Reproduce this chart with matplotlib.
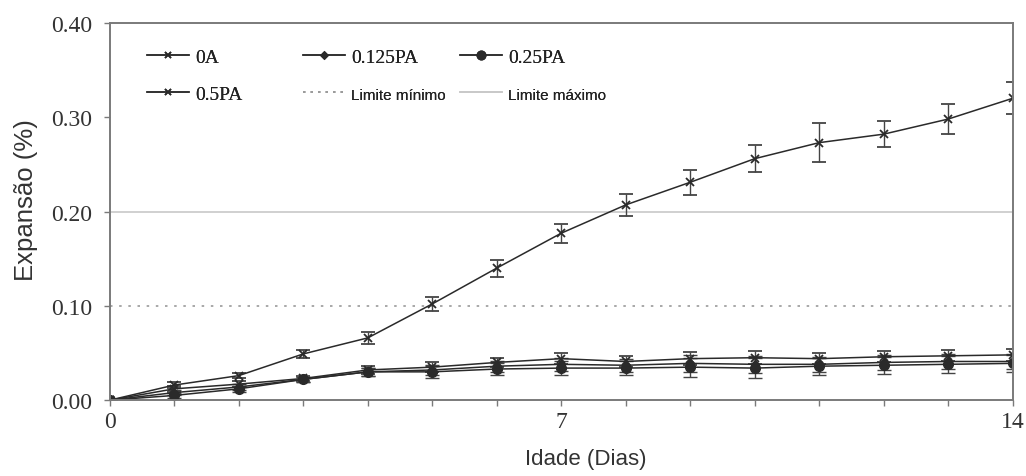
import matplotlib
matplotlib.use("Agg")
import matplotlib.pyplot as plt
from matplotlib.lines import Line2D

days = list(range(15))
s_0A = [0, 0.012, 0.017, 0.023, 0.032, 0.035, 0.040, 0.044, 0.041, 0.044, 0.045, 0.044, 0.046, 0.047, 0.048]
e_0A = [0, 0.003, 0.003, 0.003, 0.004, 0.005, 0.005, 0.006, 0.006, 0.007, 0.007, 0.006, 0.006, 0.006, 0.006]
s_125 = [0, 0.008, 0.014, 0.022, 0.030, 0.032, 0.036, 0.038, 0.037, 0.039, 0.038, 0.038, 0.040, 0.041, 0.041]
e_125 = [0, 0.003, 0.003, 0.003, 0.004, 0.005, 0.006, 0.007, 0.007, 0.009, 0.009, 0.008, 0.008, 0.008, 0.008]
s_25 = [0, 0.005, 0.012, 0.022, 0.030, 0.030, 0.033, 0.034, 0.034, 0.035, 0.034, 0.036, 0.037, 0.038, 0.039]
e_25 = [0, 0.003, 0.003, 0.003, 0.004, 0.006, 0.006, 0.007, 0.007, 0.010, 0.011, 0.009, 0.009, 0.009, 0.009]
s_5 = [0, 0.016, 0.026, 0.049, 0.066, 0.102, 0.140, 0.177, 0.207, 0.231, 0.256, 0.273, 0.282, 0.298, 0.320]
e_5 = [0, 0.003, 0.003, 0.004, 0.006, 0.007, 0.009, 0.010, 0.012, 0.013, 0.014, 0.021, 0.014, 0.016, 0.017]
lim_min = 0.10
lim_max = 0.20
x_ticks = [0, 7, 14]
y_ticks = [0, 0.1, 0.2, 0.3, 0.4]
y_ticklabels = ['0.00', '0.10', '0.20', '0.30', '0.40']

fig = plt.figure(figsize=(10.26, 4.77), dpi=100)
ax = fig.add_axes([0.107, 0.159, 0.880, 0.791])

lc = '#2a2a2a'
ax.plot([0, 14], [lim_min, lim_min], ls=(0, (1.5, 4)), color='#9a9a9a', lw=1.2, zorder=1)
ax.plot([0, 14], [lim_max, lim_max], ls='-', color='#c8c8c8', lw=1.2, zorder=1)

kw = dict(color=lc, lw=1.1, capsize=5, elinewidth=1.0, capthick=1.0, ecolor='#444444')
ax.errorbar(days, s_25, yerr=e_25, marker='o', ms=7, **kw)
ax.errorbar(days, s_125, yerr=e_125, marker='D', ms=4.5, **kw)
ax.errorbar(days, s_0A, yerr=e_0A, marker='x', ms=6, mew=1.3, **kw)
ax.errorbar(days, s_5, yerr=e_5, marker='x', ms=6, mew=1.3, **kw)

ax.set_xlim(0, 14)
ax.set_ylim(0, 0.40)
ax.set_xticks(x_ticks)
ax.set_xticks(days, minor=True)
ax.set_yticks(y_ticks)
ax.set_yticklabels(y_ticklabels)
for sp in ax.spines.values():
    sp.set_color('#7a7a7a')
    sp.set_linewidth(1.4)
ax.tick_params(axis='both', which='both', direction='out', length=4.5, color='#7a7a7a', width=1.0)
ax.tick_params(axis='y', labelsize=17, labelcolor='#333333', pad=8)
ax.tick_params(axis='x', labelsize=17, labelcolor='#333333', pad=3)
for lab in ax.get_xticklabels() + ax.get_yticklabels():
    lab.set_fontfamily('Liberation Serif')
ax.set_xlabel('Idade (Dias)', fontsize=16, family='Liberation Sans', color='#333333')
ax.set_ylabel('Expansão (%)', fontsize=18.5, family='Liberation Sans', color='#333333')
ax.xaxis.set_label_coords(0.527, -0.128)
ax.yaxis.set_label_coords(-0.080, 0.533)

def handle(marker, ms, ls='-', color=lc):
    return Line2D([], [], color=color, lw=1.1, ls=ls, marker=marker, ms=ms, mew=1.2)

cols = [
    ([handle('x', 5), handle('x', 5)], ['0A', '0.5PA'], 0.143, ['Liberation Serif', 'Liberation Serif']),
    ([handle('D', 3.5), Line2D([], [], color='#9a9a9a', lw=1.2, ls=(0, (1.5, 3)))], ['0.125PA', 'Limite mínimo'], 0.295, ['Liberation Serif', 'Liberation Sans']),
    ([handle('o', 6), Line2D([], [], color='#c8c8c8', lw=1.2)], ['0.25PA', 'Limite máximo'], 0.448, ['Liberation Serif', 'Liberation Sans']),
]
for hs, labs, xpos, fams in cols:
    leg = fig.legend(hs, labs, loc='upper left', bbox_to_anchor=(xpos, 0.897), frameon=False,
                     handlelength=2.2, handletextpad=0.3, labelspacing=1.0, fontsize=14,
                     borderaxespad=0, borderpad=0)
    for t, f in zip(leg.get_texts(), fams):
        t.set_fontfamily(f)
        t.set_color('#222222')
        if f == 'Liberation Sans':
            t.set_fontsize(11)
    fig.add_artist(leg)

fig.savefig('out.png', dpi=100)
